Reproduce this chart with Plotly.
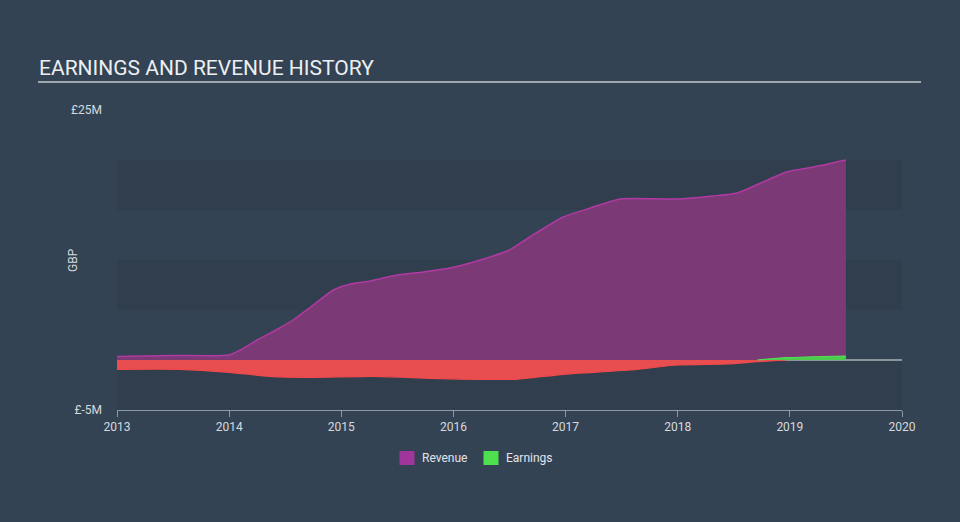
import numpy as np
import plotly.graph_objects as go

# ---- data (GBP millions) ----
rev_x = [2013.0, 2013.5, 2014.0, 2014.1, 2014.25, 2014.45, 2014.57, 2014.75, 2014.93,
         2015.08, 2015.26, 2015.5, 2015.73, 2015.97, 2016.24, 2016.5, 2016.68, 2016.98,
         2017.22, 2017.49, 2017.99, 2018.31, 2018.53, 2018.76, 2018.97, 2019.21, 2019.5]
revenue = [0.35, 0.45, 0.5, 1.0, 2.0, 3.2, 4.0, 5.5, 7.0,
           7.6, 7.9, 8.5, 8.8, 9.2, 10.0, 11.0, 12.3, 14.3,
           15.2, 16.1, 16.1, 16.4, 16.7, 17.8, 18.8, 19.3, 20.0]

earn_x = [2013.0, 2013.56, 2014.0, 2014.39, 2014.69, 2015.29, 2015.58, 2015.88, 2016.24,
          2016.56, 2016.98, 2017.57, 2018.0, 2018.44, 2018.71, 2018.97, 2019.5]
earnings = [-0.93, -0.93, -1.23, -1.67, -1.73, -1.63, -1.73, -1.87, -1.93,
            -1.93, -1.43, -1.0, -0.5, -0.4, -0.17, 0.23, 0.4]

year_ticks = [2013, 2014, 2015, 2016, 2017, 2018, 2019, 2020]
y_tickvals = [-5, 25]
y_ticktext = ["£-5M", "£25M"]
band_edges = [(-5, 0), (5, 10), (15, 20)]
legend_names = ["Revenue", "Earnings"]
legend_colors = ["#a0359c", "#4fe04f"]

BG = "#344353"
BAND = "#303e4d"
FONT = "Roboto"
TXT = "#d5dade"

# plot area in pixels
L, R, T, B = 117, 902, 110, 410
W, H = R - L, B - T


def px(x):
    return (x - L) / W


def py(y):
    return (B - y) / H


earn_arr = np.array(earnings)
ex = np.array(earn_x)
first_pos = int(np.argmax(earn_arr > 0))
neg_x = ex[:first_pos + 1]
neg_y = np.minimum(earn_arr[:first_pos + 1], 0)
pos_x = ex[first_pos - 1:]
pos_y = np.maximum(earn_arr[first_pos - 1:], 0)

fig = go.Figure()

fig.add_trace(go.Scatter(
    x=rev_x, y=revenue, mode="lines", fill="tozeroy",
    line=dict(color="#b03aa2", width=1.5, shape="spline", smoothing=0.6),
    fillcolor="#7b3a76", showlegend=False, hoverinfo="skip"))

fig.add_trace(go.Scatter(
    x=neg_x, y=neg_y, mode="lines", fill="tozeroy",
    line=dict(color="#f24a4a", width=1.2, shape="spline", smoothing=0.6),
    fillcolor="#e84d4f", showlegend=False, hoverinfo="skip"))

fig.add_trace(go.Scatter(
    x=pos_x, y=pos_y, mode="lines", fill="tozeroy",
    line=dict(color="#52e052", width=1.2, shape="spline", smoothing=0.6),
    fillcolor="#4ccc4c", showlegend=False, hoverinfo="skip"))

shapes = []
for lo, hi in band_edges:
    shapes.append(dict(type="rect", xref="paper", yref="y", x0=0, x1=1, y0=lo, y1=hi,
                       fillcolor=BAND, line=dict(width=0), layer="below"))
shapes.append(dict(type="line", xref="paper", yref="y", x0=0, x1=1, y0=0, y1=0,
                   line=dict(color="#e6e9ec", width=1.2), layer="below"))
# title underline
shapes.append(dict(type="line", xref="paper", yref="paper",
                   x0=px(38), x1=px(921), y0=py(82), y1=py(82),
                   line=dict(color="#9ea6ae", width=2)))

annotations = [
    dict(text="EARNINGS AND REVENUE HISTORY", xref="paper", yref="paper",
         x=px(37), y=py(68), xanchor="left", yanchor="middle",
         showarrow=False, font=dict(family=FONT, size=21, color="#eceff2")),
    dict(text="GBP", xref="paper", yref="paper", x=px(73), y=py(260),
         xanchor="center", yanchor="middle", textangle=-90, showarrow=False,
         font=dict(family=FONT, size=12, color=TXT)),
]

# custom legend
leg_sq = [407, 491]
for name, col, cx in zip(legend_names, legend_colors, leg_sq):
    shapes.append(dict(type="rect", xref="paper", yref="paper",
                       x0=px(cx - 7.5), x1=px(cx + 7.5), y0=py(465), y1=py(451),
                       fillcolor=col, line=dict(width=0)))
    annotations.append(dict(text=name, xref="paper", yref="paper", x=px(cx + 13), y=py(458),
                            xanchor="left", yanchor="middle", showarrow=False,
                            font=dict(family=FONT, size=12, color="#e0e4e8")))

fig.update_layout(
    width=960, height=522,
    margin=dict(l=L, r=960 - R, t=T, b=522 - B),
    paper_bgcolor=BG, plot_bgcolor=BG,
    font=dict(family=FONT, color=TXT, size=12),
    shapes=shapes,
    annotations=annotations,
    showlegend=False,
)

fig.update_xaxes(range=[2013, 2020], tickvals=year_ticks, ticktext=[str(t) for t in year_ticks],
                 showgrid=False, zeroline=False, showline=True, linecolor="#8d98a4", linewidth=1,
                 ticks="outside", ticklen=6, tickcolor="#8d98a4",
                 tickfont=dict(size=12, color=TXT))
fig.update_yaxes(range=[-5, 25], tickvals=y_tickvals, ticktext=y_ticktext,
                 showgrid=False, zeroline=False, showline=False,
                 ticks="", ticklabelstandoff=14,
                 tickfont=dict(size=12, color=TXT))

fig.write_html("out.html")
